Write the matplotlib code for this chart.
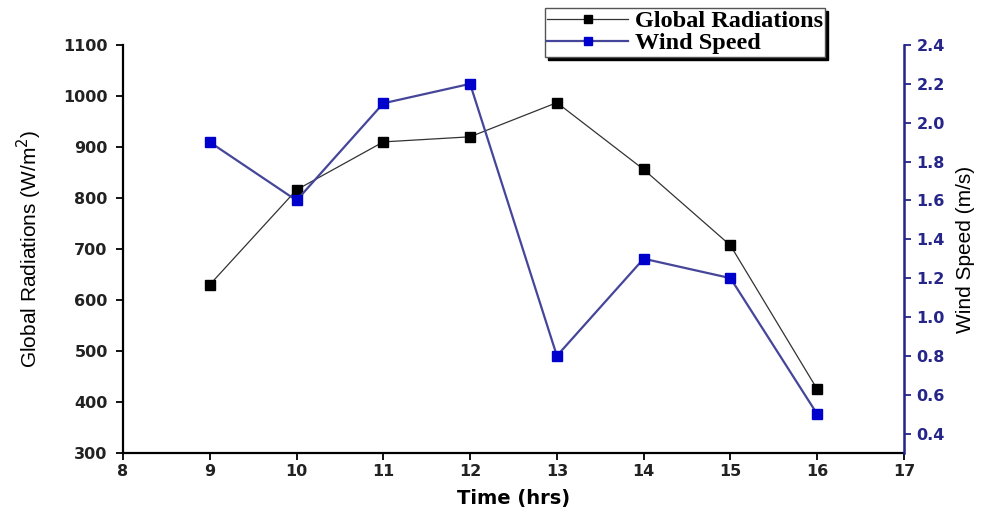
import matplotlib
matplotlib.use("Agg")
import matplotlib.pyplot as plt
from matplotlib.ticker import MultipleLocator, FormatStrFormatter

hours = [9, 10, 11, 12, 13, 14, 15, 16]
global_rad = [630, 816, 910, 920, 987, 856, 707, 425]
wind_speed = [1.9, 1.6, 2.1, 2.2, 0.8, 1.3, 1.2, 0.5]

navy = "#25258a"
fig = plt.figure(figsize=(9.98, 5.18), dpi=100)
ax = fig.add_axes([123/998, 1-453/518, (904-123)/998, (453-45)/518])
ax2 = ax.twinx()

l1, = ax.plot(hours, global_rad, color="#333333", lw=0.9, marker="s", ms=7,
              mfc="black", mec="black", label="Global Radiations", zorder=3)
l2, = ax2.plot(hours, wind_speed, color="#45459a", lw=1.6, marker="s", ms=7,
               mfc="#0000cc", mec="#0000cc", label="Wind Speed", zorder=3)

ax.set_xlim(8, 17)
ax.set_ylim(300, 1100)
ax.xaxis.set_major_locator(MultipleLocator(1))
ax.yaxis.set_major_locator(MultipleLocator(100))
ax2.yaxis.set_major_locator(MultipleLocator(0.2))
ax2.yaxis.set_major_formatter(FormatStrFormatter("%.1f"))
ax2.set_ylim(0.3, 2.4)

for a in (ax, ax2):
    a.spines["top"].set_visible(False)
ax.spines["left"].set_linewidth(1.6)
ax.spines["bottom"].set_linewidth(1.6)
ax2.spines["right"].set_color(navy)
ax2.spines["right"].set_linewidth(1.8)
ax2.spines["left"].set_visible(False)
ax2.spines["bottom"].set_visible(False)

ax.tick_params(axis="both", direction="out", length=5, width=1.3, labelsize=11.5)
ax.tick_params(axis="x", pad=3)
ax.tick_params(axis="y", pad=6)
ax2.tick_params(axis="y", direction="out", length=5, width=1.3, colors=navy,
                labelsize=11.5, pad=4)
for lab in ax.get_xticklabels() + ax.get_yticklabels():
    lab.set_fontfamily("DejaVu Sans"); lab.set_fontweight("bold"); lab.set_color("#222222")
for lab in ax2.get_yticklabels():
    lab.set_fontfamily("DejaVu Sans"); lab.set_fontweight("bold"); lab.set_color(navy)

ax.set_xlabel("Time (hrs)", family="DejaVu Sans", weight="bold", size=14, labelpad=7)
ax.set_ylabel("Global Radiations (W/m$^2$)", family="Liberation Sans", size=15,
              labelpad=14)
ax2.set_ylabel("Wind Speed (m/s)", family="Liberation Sans", size=15, labelpad=8)

leg = fig.legend(handles=[l1, l2], loc="upper left",
                 bbox_to_anchor=(545/998, 1-8/518),
                 prop=dict(family="Liberation Serif", weight="bold", size=17.5),
                 frameon=True, fancybox=False, shadow={"color": "black", "alpha": 1},
                 edgecolor="#555555", handlelength=3.3, handletextpad=0.3,
                 borderpad=0.1, labelspacing=0.0, borderaxespad=0, markerscale=0.8)
leg.get_frame().set_linewidth(1.0)

fig.savefig("out.png", dpi=100)
